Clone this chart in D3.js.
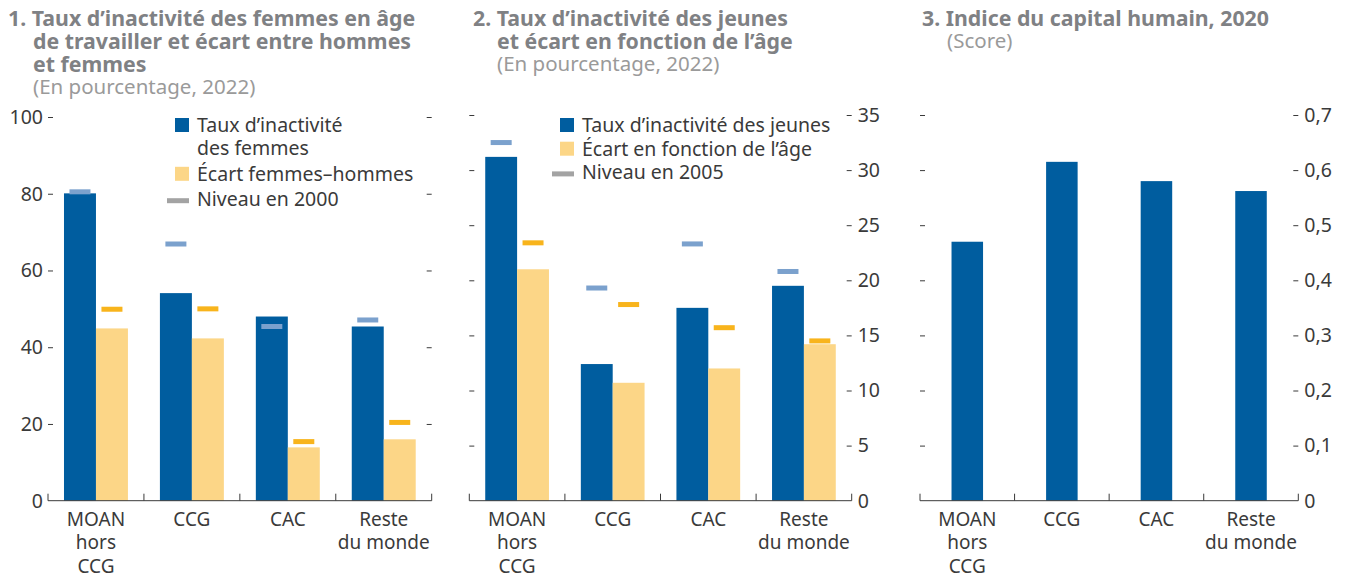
<!DOCTYPE html>
<html>
<head>
<meta charset="utf-8">
<script src="https://cdn.jsdelivr.net/npm/d3@7"></script>
<style>
  html, body { margin: 0; padding: 0; background: #fff; }
  svg { display: block; font-family: "Noto Sans", sans-serif; }
</style>
</head>
<body>
<div id="chart"></div>
<script>
const categories = ["MOAN hors CCG", "CCG", "CAC", "Reste du monde"]
const categoryLines = [["MOAN", "hors", "CCG"], ["CCG"], ["CAC"], ["Reste", "du monde"]]

// Panel 1 (percent, 2022)
const femInactivity = [80.1, 54.1, 48.0, 45.4]
const genderGap = [44.9, 42.3, 13.9, 16.0]
const femInactivity2000 = [80.5, 66.9, 45.4, 47.1]
const genderGap2000 = [49.9, 50.0, 15.4, 20.4]
const ticks1 = [0, 20, 40, 60, 80, 100]

// Panel 2 (percent, 2022)
const youthInactivity = [31.2, 12.4, 17.5, 19.5]
const ageGap = [21.0, 10.7, 12.0, 14.2]
const youthInactivity2005 = [32.5, 19.3, 23.3, 20.8]
const ageGap2005 = [23.4, 17.8, 15.7, 14.5]
const ticks2 = [0, 5, 10, 15, 20, 25, 30, 35]

// Panel 3 (score)
const humanCapital = [0.47, 0.615, 0.58, 0.562]
const ticks3 = [0, 0.1, 0.2, 0.3, 0.4, 0.5, 0.6, 0.7]

const COLORS = {
  blue: "#005d9f",
  yellow: "#fcd687",
  blueMark: "#7ba1cd",
  yellowMark: "#f8b41c",
  legendMark: "#a3a3a3",
  text: "#3a3a3a",
  title: "#7f8184",
  subtitle: "#9a9a9a",
  axis: "#3a3a3a"
}

const W = 1346, H = 577
const BASE = 500.7

const svg = d3.select("#chart").append("svg")
  .attr("width", W).attr("height", H)
  .attr("viewBox", [0, 0, W, H])

svg.append("rect").attr("width", W).attr("height", H).attr("fill", "#fff")

function drawTitle(x, indentX, lines, sub, y0) {
  const g = svg.append("g")
  lines.forEach((t, i) => {
    g.append("text")
      .attr("x", i === 0 ? x : indentX)
      .attr("y", y0 + i * 23)
      .attr("font-size", "21.3px").attr("font-weight", 700)
      .attr("fill", COLORS.title)
      .text(t)
  })
  g.append("text")
    .attr("x", indentX).attr("y", y0 - 1 + lines.length * 23)
    .attr("font-size", "20.5px")
    .attr("fill", COLORS.subtitle)
    .text(sub)
}

function drawPanel(opt) {
  const x = d3.scaleBand().domain(categories).range([opt.x0, opt.x1])
  const y = d3.scaleLinear().domain([0, opt.max]).range([BASE, opt.yTop])
  const g = svg.append("g")

  // value axes (inward ticks)
  const left = g.append("g").attr("transform", `translate(${opt.x0},0)`)
    .call(d3.axisRight(y).tickValues(opt.ticks).tickSize(5).tickFormat(""))
  const right = g.append("g").attr("transform", `translate(${opt.x1},0)`)
    .call(d3.axisLeft(y).tickValues(opt.ticks).tickSize(5).tickFormat(""))
  ;[left, right].forEach(a => {
    a.select(".domain").remove()
    a.selectAll(".tick line").attr("stroke", COLORS.axis)
    a.selectAll(".tick").filter(d => d === 0).remove()
  })

  const fmt = v => d3.format(opt.fmt)(v).replace(".", ",")
  g.append("g").selectAll("text").data(opt.ticks).join("text")
    .attr("x", opt.labelSide === "left" ? opt.x0 - 5 : opt.x1 + 6)
    .attr("y", d => y(d))
    .attr("dy", "0.35em")
    .attr("text-anchor", opt.labelSide === "left" ? "end" : "start")
    .attr("font-size", "19.5px")
    .attr("fill", COLORS.text)
    .text(fmt)

  // bars
  const sub = d3.scaleBand().domain(opt.series.map((s, i) => i))
    .range([0, x.bandwidth()]).paddingOuter(opt.series.length === 1 ? 1 : 0.5)
  opt.series.forEach((s, si) => {
    g.append("g").selectAll("rect").data(s.values).join("rect")
      .attr("x", (d, i) => x(categories[i]) + sub(si))
      .attr("y", d => y(d))
      .attr("width", sub.bandwidth())
      .attr("height", d => BASE - y(d))
      .attr("fill", s.color)
  })
  // past-level markers
  ;(opt.markers || []).forEach(m => {
    g.append("g").selectAll("rect").data(m.values).join("rect")
      .attr("x", (d, i) => x(categories[i]) + sub(m.series) + sub.bandwidth() / 2 - 10.5)
      .attr("y", d => y(d) - 2.5)
      .attr("width", 21).attr("height", 5)
      .attr("fill", m.color)
  })

  // category axis with upward ticks at band edges
  const bx = d3.axisBottom(x).tickSize(0).tickFormat("")
  const bottom = g.append("g").attr("transform", `translate(0,${BASE})`).call(bx)
  bottom.select(".domain").attr("stroke", COLORS.axis).attr("d", `M${opt.x0},0H${opt.x1}`)
  bottom.selectAll(".tick").remove()
  const edges = categories.map(c => x(c)).concat([opt.x1])
  g.append("g").selectAll("line").data(edges).join("line")
    .attr("x1", d => d).attr("x2", d => d)
    .attr("y1", BASE).attr("y2", BASE - 7)
    .attr("stroke", COLORS.axis)

  g.append("g").selectAll("text").data(categoryLines).join("text")
    .attr("text-anchor", "middle")
    .attr("font-size", "19px")
    .attr("fill", COLORS.text)
    .attr("transform", (d, i) => `translate(${x(categories[i]) + x.bandwidth() / 2},${BASE + 25})`)
    .selectAll("tspan").data(d => d).join("tspan")
    .attr("x", 0).attr("y", (d, i) => i * 23.5)
    .text(d => d)

  // legend
  if (opt.legend) {
    const lg = g.append("g").attr("transform", `translate(${opt.legend.x},${opt.legend.y})`)
    let yy = 0
    opt.legend.items.forEach(it => {
      if (it.kind === "square") {
        lg.append("rect").attr("x", 0).attr("y", yy - 14).attr("width", 14).attr("height", 14).attr("fill", it.color)
      } else {
        lg.append("rect").attr("x", -8).attr("y", yy - 8).attr("width", 22).attr("height", 5).attr("fill", it.color)
      }
      it.lines.forEach((t, li) => {
        lg.append("text").attr("x", 22).attr("y", yy + li * 23.4)
          .attr("font-size", "19.5px").attr("fill", COLORS.text).text(t)
      })
      yy += it.lines.length * 23.4 + opt.legend.gap
    })
  }
}

drawTitle(8, 33, ["1. Taux d\u2019inactivité des femmes en âge", "de travailler et écart entre hommes", "et femmes"], "(En pourcentage, 2022)", 26)
drawTitle(473, 497, ["2. Taux d\u2019inactivité des jeunes", "et écart en fonction de l\u2019âge"], "(En pourcentage, 2022)", 26)
drawTitle(922, 947, ["3. Indice du capital humain, 2020"], "(Score)", 26)

drawPanel({
  x0: 48, x1: 431.7, yTop: 117, max: 100, ticks: ticks1, fmt: "d", labelSide: "left",
  series: [{ values: femInactivity, color: COLORS.blue }, { values: genderGap, color: COLORS.yellow }],
  markers: [{ values: femInactivity2000, series: 0, color: COLORS.blueMark }, { values: genderGap2000, series: 1, color: COLORS.yellowMark }],
  legend: { x: 175, y: 132, gap: 2, items: [
    { kind: "square", color: COLORS.blue, lines: ["Taux d\u2019inactivité", "des femmes"] },
    { kind: "square", color: COLORS.yellow, lines: ["Écart femmes\u2013hommes"] },
    { kind: "dash", color: COLORS.legendMark, lines: ["Niveau en 2000"] }
  ] }
})

drawPanel({
  x0: 469.3, x1: 851.7, yTop: 115, max: 35, ticks: ticks2, fmt: "d", labelSide: "right",
  series: [{ values: youthInactivity, color: COLORS.blue }, { values: ageGap, color: COLORS.yellow }],
  markers: [{ values: youthInactivity2005, series: 0, color: COLORS.blueMark }, { values: ageGap2005, series: 1, color: COLORS.yellowMark }],
  legend: { x: 560, y: 132, gap: 0.3, items: [
    { kind: "square", color: COLORS.blue, lines: ["Taux d\u2019inactivité des jeunes"] },
    { kind: "square", color: COLORS.yellow, lines: ["Écart en fonction de l\u2019âge"] },
    { kind: "dash", color: COLORS.legendMark, lines: ["Niveau en 2005"] }
  ] }
})

drawPanel({
  x0: 920, x1: 1298.3, yTop: 115, max: 0.7, ticks: ticks3, fmt: ".1~f", labelSide: "right",
  series: [{ values: humanCapital, color: COLORS.blue }]
})
</script>
</body>
</html>
